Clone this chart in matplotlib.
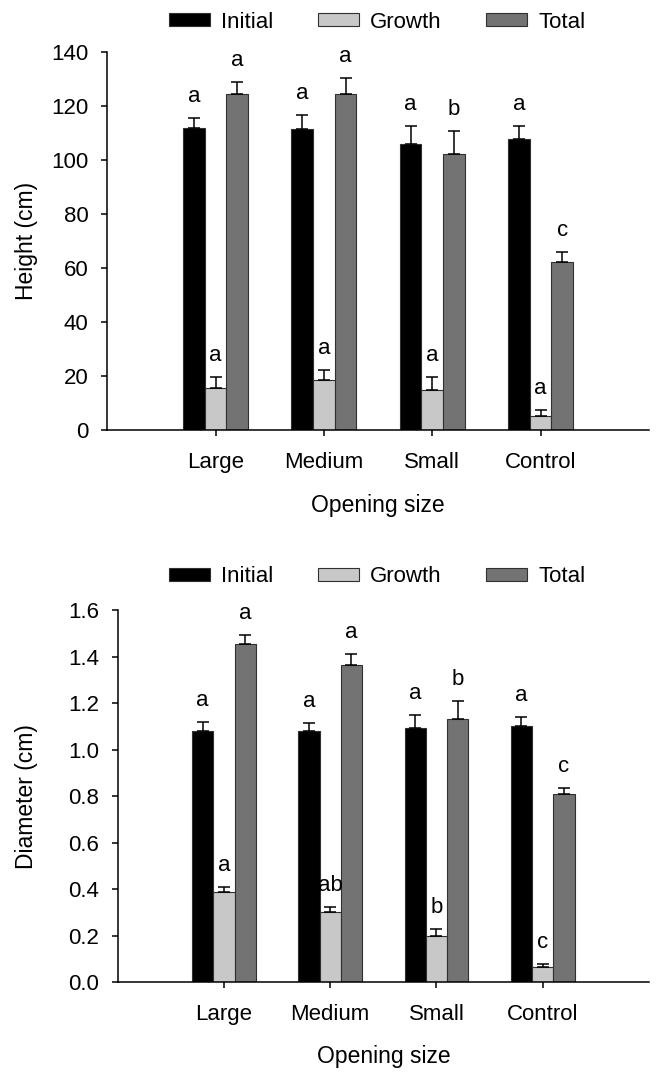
"""
Height and diameter by opening size
"""
import numpy as np
import matplotlib
matplotlib.use('Agg')
import matplotlib.pyplot as plt

plt.rcParams['font.family'] = ['Liberation Sans', 'DejaVu Sans']

sizes = ['Large', 'Medium', 'Small', 'Control']
series = ['Initial', 'Growth', 'Total']
colors = ['#000000', '#c8c8c8', '#737373']

# height (cm)
h_initial = [112.0, 111.6, 106.0, 107.6]
h_initial_err = [3.6, 4.9, 6.7, 5.1]
h_growth = [15.7, 18.6, 14.9, 5.3]
h_growth_err = [3.8, 3.6, 4.7, 2.0]
h_total = [124.4, 124.4, 102.1, 62.1]
h_total_err = [4.4, 6.0, 8.6, 3.7]
h_letters = [['a', 'a', 'a', 'a'], ['a', 'a', 'a', 'a'], ['a', 'a', 'b', 'c']]

# diameter (cm)
d_initial = [1.082, 1.082, 1.092, 1.104]
d_initial_err = [0.038, 0.035, 0.058, 0.037]
d_growth = [0.388, 0.301, 0.198, 0.067]
d_growth_err = [0.022, 0.023, 0.031, 0.012]
d_total = [1.454, 1.363, 1.131, 0.810]
d_total_err = [0.040, 0.049, 0.080, 0.027]
d_letters = [['a', 'a', 'a', 'a'], ['a', 'ab', 'b', 'c'], ['a', 'a', 'b', 'c']]

FS = 16
fig = plt.figure(figsize=(6.57, 10.72), dpi=100)
ax1 = fig.add_axes([0.1633, 0.5989, 0.8245, 0.3526])
ax2 = fig.add_axes([0.1791, 0.0837, 0.8087, 0.3470])


def draw(ax, vals, errs, letters, ymax, ystep, ylabel, fmt, ylab_x, leg_y):
    x = np.arange(len(sizes))
    w = 0.2
    handles = []
    for i in range(3):
        pos = x + (i - 1) * w
        b = ax.bar(pos, vals[i], w, color=colors[i], edgecolor='#303030',
                   linewidth=0.8, label=series[i], zorder=2)
        handles.append(b)
        ax.errorbar(pos, vals[i], yerr=[np.zeros(4), errs[i]], fmt='none',
                    ecolor='black', elinewidth=1.1, capsize=4.6,
                    capthick=1.1, zorder=3)
        for j in range(4):
            ax.annotate(letters[i][j], (pos[j], vals[i][j] + errs[i][j]),
                        xytext=(0, 11.5), textcoords='offset points',
                        ha='center', va='baseline', fontsize=FS)
    ax.set_xlim(-1, 4)
    ax.set_ylim(0, ymax)
    ax.set_yticks(np.arange(0, ymax + ystep / 2, ystep))
    ax.yaxis.set_major_formatter(matplotlib.ticker.FormatStrFormatter(fmt))
    ax.set_xticks(x)
    ax.set_xticklabels(sizes)
    for s in ['top', 'right']:
        ax.spines[s].set_visible(False)
    for s in ['left', 'bottom']:
        ax.spines[s].set_linewidth(1.1)
    ax.tick_params(axis='y', direction='out', length=4.5, width=1.1,
                   pad=9, labelsize=FS)
    ax.tick_params(axis='x', direction='out', length=4.5, width=1.1,
                   pad=11, labelsize=FS)
    ax.set_ylabel(ylabel, fontsize=FS + 0.5, va='center')
    ax.yaxis.set_label_coords(ylab_x, 0.5)
    ax.set_xlabel('Opening size', fontsize=FS + 0.5, va='center')
    ax.xaxis.set_label_coords(0.5, -0.199)
    fig.legend(handles=handles, labels=series, loc='center',
               bbox_to_anchor=(0.574, leg_y), ncol=3, frameon=False,
               fontsize=FS, handlelength=1.85, handleheight=0.5,
               handletextpad=0.5, columnspacing=2.0)


draw(ax1, [h_initial, h_growth, h_total],
     [h_initial_err, h_growth_err, h_total_err], h_letters,
     140, 20, 'Height (cm)', '%d', (27 - 107.3) / 541.7, 1 - 22 / 1072)
draw(ax2, [d_initial, d_growth, d_total],
     [d_initial_err, d_growth_err, d_total_err], d_letters,
     1.6, 0.2, 'Diameter (cm)', '%.1f', (27 - 117.7) / 531.3, 1 - 577 / 1072)

fig.savefig('out.png', dpi=100)
